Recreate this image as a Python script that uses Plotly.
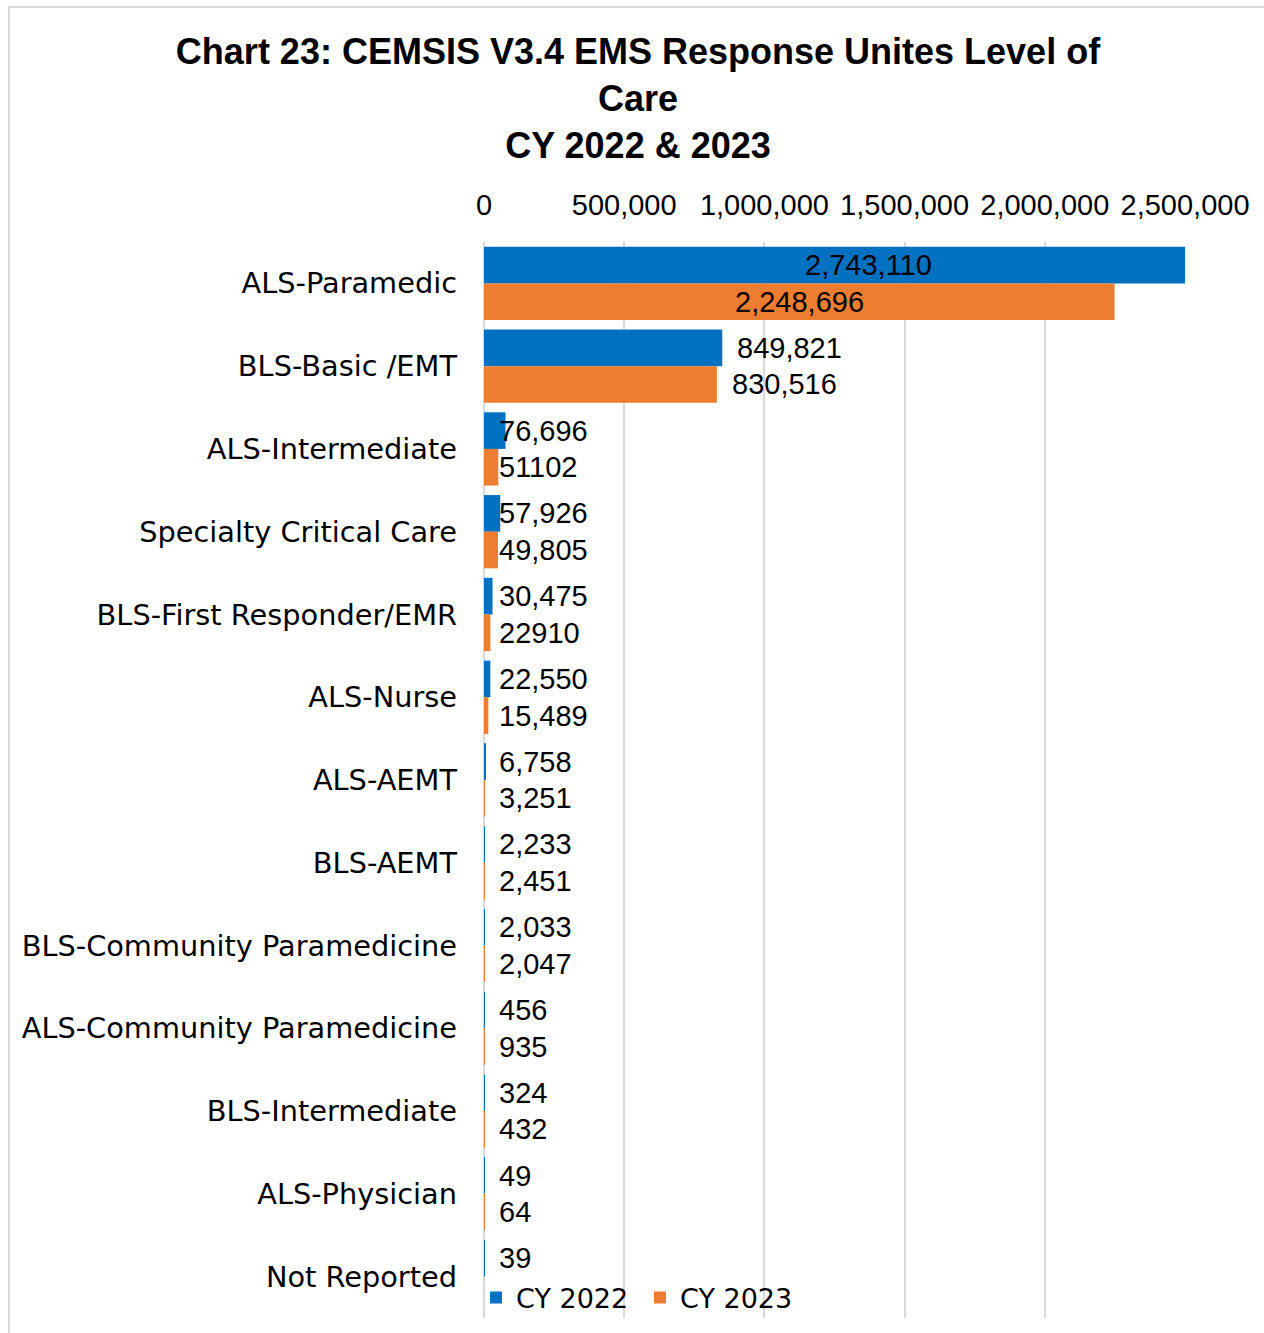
import plotly.graph_objects as go

# ---- data ----
categories = ["ALS-Paramedic", "BLS-Basic /EMT", "ALS-Intermediate", "Specialty Critical Care",
              "BLS-First Responder/EMR", "ALS-Nurse", "ALS-AEMT", "BLS-AEMT",
              "BLS-Community Paramedicine", "ALS-Community Paramedicine", "BLS-Intermediate",
              "ALS-Physician", "Not Reported"]
cy2022 = [2743110, 849821, 76696, 57926, 30475, 22550, 6758, 2233, 2033, 456, 324, 49, 39]
cy2023 = [2248696, 830516, 51102, 49805, 22910, 15489, 3251, 2451, 2047, 935, 432, 64, None]
labels2022 = ["2,743,110", "849,821", "76,696", "57,926", "30,475", "22,550", "6,758",
              "2,233", "2,033", "456", "324", "49", "39"]
labels2023 = ["2,248,696", "830,516", "51102", "49,805", "22910", "15,489", "3,251",
              "2,451", "2,047", "935", "432", "64", ""]
tick_vals = [0, 500000, 1000000, 1500000, 2000000, 2500000]
tick_text = ["0", "500,000", "1,000,000", "1,500,000", "2,000,000", "2,500,000"]
series_names = ["CY 2022", "CY 2023"]

# ---- style ----
W, H = 1264, 1333
ML, MR, MT, MB = 484, 79, 242, 15
BLUE, ORANGE = "#0070C0", "#ED7D31"
GRID = "#D9D9D9"
TXT_FONT = "DejaVu Sans"
NUM_FONT = "Liberation Sans"
BARGAP = 0.115

idx = list(range(len(categories)))

fig = go.Figure()
fig.add_trace(go.Bar(y=idx, x=cy2022, name=series_names[0], orientation="h",
                     marker=dict(color=BLUE, line=dict(width=0))))
fig.add_trace(go.Bar(y=idx, x=cy2023, name=series_names[1], orientation="h",
                     marker=dict(color=ORANGE, line=dict(width=0))))

# data labels
off = (1 - BARGAP) / 4
annos = []
for vals, labs, sgn in ((cy2022, labels2022, -1), (cy2023, labels2023, 1)):
    for i, (v, t) in enumerate(zip(vals, labs)):
        if v is None or not t:
            continue
        if v >= 1_000_000:
            ax, anchor, shift = v / 2, "center", 0
        elif v >= 500_000:
            ax, anchor, shift = v, "left", 13
        else:
            ax, anchor, shift = 0, "left", 13
        annos.append(dict(x=ax, y=i + sgn * off, xref="x", yref="y", text=t,
                          showarrow=False, xanchor=anchor, yanchor="middle",
                          xshift=shift, font=dict(family=NUM_FONT, size=29, color="#000000")))

# chart border
px2x = lambda p: (p - ML) / (W - ML - MR)
px2y = lambda p: (H - MB - p) / (H - MT - MB)
shapes = [dict(type="rect", xref="paper", yref="paper",
               x0=px2x(9), x1=px2x(1275), y0=px2y(1345), y1=px2y(7),
               line=dict(color=GRID, width=2), fillcolor="rgba(0,0,0,0)", layer="below")]

fig.update_layout(
    width=W, height=H,
    margin=dict(l=ML, r=MR, t=MT, b=MB, autoexpand=False),
    paper_bgcolor="white", plot_bgcolor="white",
    barmode="group", bargap=BARGAP, bargroupgap=0,
    title=dict(text="<b>Chart 23: CEMSIS V3.4 EMS Response Unites Level of<br>Care<br>CY 2022 &amp; 2023</b>",
               x=638 / W, xref="container", xanchor="center",
               y=1 - 64 / H, yref="container", yanchor="top",
               font=dict(family="Liberation Sans", size=36, color="#000000")),
    xaxis=dict(side="top", range=[0, 2500000], tickvals=tick_vals, ticktext=tick_text,
               tickangle=0, showgrid=True, gridcolor=GRID, gridwidth=2,
               zeroline=True, zerolinecolor=GRID, zerolinewidth=2, ticks="",
               ticklabelstandoff=20,
               tickfont=dict(family=NUM_FONT, size=29, color="#000000"), fixedrange=True),
    yaxis=dict(tickvals=idx, ticktext=categories, range=[len(categories) - 0.5, -0.5],
               showgrid=False, zeroline=False, ticks="", ticklabelstandoff=26,
               tickfont=dict(family=TXT_FONT, size=28.8, color="#000000"), fixedrange=True),
    legend=dict(orientation="h", x=px2x(476), y=px2y(1298), xanchor="left", yanchor="middle",
                bgcolor="rgba(0,0,0,0)", font=dict(family=TXT_FONT, size=27, color="#000000"),
                itemwidth=30, entrywidth=119, entrywidthmode="pixels", traceorder="normal"),
    annotations=annos, shapes=shapes, showlegend=True,
)

fig.write_html("out.html")
